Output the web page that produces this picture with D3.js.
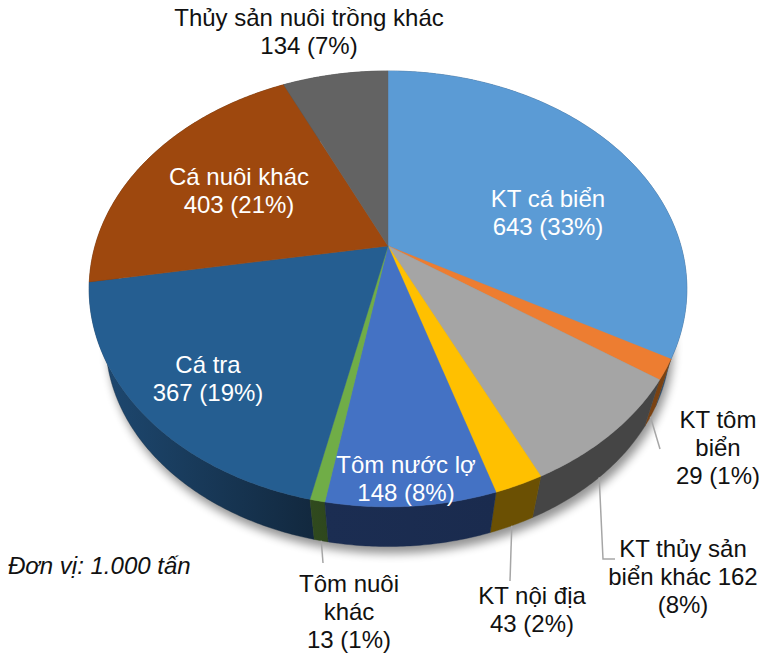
<!DOCTYPE html>
<html><head><meta charset="utf-8">
<style>html,body{margin:0;padding:0;background:#fff}svg{display:block}text{font-family:"Liberation Sans",Arial,sans-serif;font-size:24px}</style>
<script src="https://cdn.jsdelivr.net/npm/d3@7"></script></head>
<body><script>
// Data
const categories=["KT cá biển","KT tôm biển","KT thủy sản biển khác","KT nội địa","Tôm nước lợ","Tôm nuôi khác","Cá tra","Cá nuôi khác","Thủy sản nuôi trồng khác"];
const values=[643,29,162,43,148,13,367,403,134];
const labelLines=[["KT cá biển","643 (33%)"],["KT tôm","biển","29 (1%)"],["KT thủy sản","biển khác 162","(8%)"],["KT nội địa","43 (2%)"],["Tôm nước lợ","148 (8%)"],["Tôm nuôi","khác","13 (1%)"],["Cá tra","367 (19%)"],["Cá nuôi khác","403 (21%)"],["Thủy sản nuôi trồng khác","134 (7%)"]];
const unitNote="Đơn vị: 1.000 tấn";
// Styles and layout
const topColors=["#5B9BD5","#ED7D31","#A5A5A5","#FFC000","#4472C4","#70AD47","#255E91","#9E480E","#636363"];
const sideFrom=["#2e4f6e","#7a4212","#454545","#6b5003","#1b2d52","#304a1e","#1e4a73","#50260a","#333333"];
const sideTo=["#2e4f6e","#7a4212","#454545","#6b5003","#1a2b4e","#2e471d","#12283e","#50260a","#333333"];
const labelAnchor=[[548,207],[718,428],[683,557],[532,604],[406,473],[349,592],[208,373],[239,185],[309,26]];
const labelColor=["#fff","#111","#111","#111","#fff","#111","#fff","#fff","#111"];
const leaders=[null,[[660,449]],[[603,559],[615,559]],[[510,581]],null,[[323,563]],null,null,null];
const W=760,H=655,cx=388,cy=246,R=293,A=209.5,C=0.197,baseY=300,baseS=0.945,lineH=28;

const svg=d3.select("body").append("svg").attr("width",W).attr("height",H);
const defs=svg.append("defs");
defs.append("filter").attr("id","soft").attr("x","-20%").attr("y","-20%").attr("width","140%").attr("height","140%")
  .append("feGaussianBlur").attr("stdDeviation",5);

const pie=d3.pie().sort(null).value(d=>d)(values);
const proj=(a,s,y0)=>{const u=Math.sin(a),v=Math.cos(a),d=1+C*v;return [cx+s*R*u/d,y0-s*A*v/d];};
const topP=a=>proj(a,1,cy), botP=a=>proj(a,baseS,baseY);
const line=d3.line();
const arcAngles=(a0,a1)=>{const n=Math.max(2,Math.ceil((a1-a0)/0.01));return d3.range(n+1).map(i=>a0+(a1-a0)*i/n);};

// shadow
svg.append("path").attr("d",line(arcAngles(0,2*Math.PI).map(botP))+"Z")
  .attr("transform","translate(3,7)").attr("fill","#000").attr("opacity",0.42).attr("filter","url(#soft)");

// side walls, back to front
const order=pie.map((d,i)=>i).sort((p,q)=>Math.cos((pie[q].startAngle+pie[q].endAngle)/2)-Math.cos((pie[p].startAngle+pie[p].endAngle)/2));
pie.forEach((d,i)=>{const g=defs.append("linearGradient").attr("id","side"+i);
  g.append("stop").attr("offset",0).attr("stop-color",sideFrom[i]);
  g.append("stop").attr("offset",1).attr("stop-color",sideTo[i]);});
svg.append("g").selectAll("path").data(order).join("path")
  .attr("d",i=>{const as=arcAngles(pie[i].startAngle,pie[i].endAngle);
    return line(as.map(topP).concat(as.slice().reverse().map(botP)))+"Z";})
  .attr("fill",i=>"url(#side"+i+")").attr("stroke",i=>sideTo[i]).attr("stroke-width",0.4);

// top faces
svg.append("g").selectAll("path").data(pie).join("path")
  .attr("d",d=>line([[cx,cy]].concat(arcAngles(d.startAngle,d.endAngle).map(topP)))+"Z")
  .attr("fill",(d,i)=>topColors[i]).attr("stroke",(d,i)=>topColors[i]).attr("stroke-width",0.4);

// leaders
svg.append("g").selectAll("path").data(pie.map((d,i)=>({d,i})).filter(o=>leaders[o.i])).join("path")
  .attr("d",o=>line([botP((o.d.startAngle+o.d.endAngle)/2)].concat(leaders[o.i])))
  .attr("fill","none").attr("stroke","#a6a6a6").attr("stroke-width",1.5);

// labels
const lab=svg.append("g").selectAll("text").data(labelLines).join("text")
  .attr("text-anchor","middle").attr("fill",(d,i)=>labelColor[i]);
lab.each(function(lines,i){d3.select(this).selectAll("tspan").data(lines).join("tspan")
  .attr("x",labelAnchor[i][0]).attr("y",(t,k)=>labelAnchor[i][1]+k*lineH).text(t=>t);});
svg.append("text").attr("x",8).attr("y",574).attr("font-style","italic").attr("fill","#111").text(unitNote);
</script></body></html>
